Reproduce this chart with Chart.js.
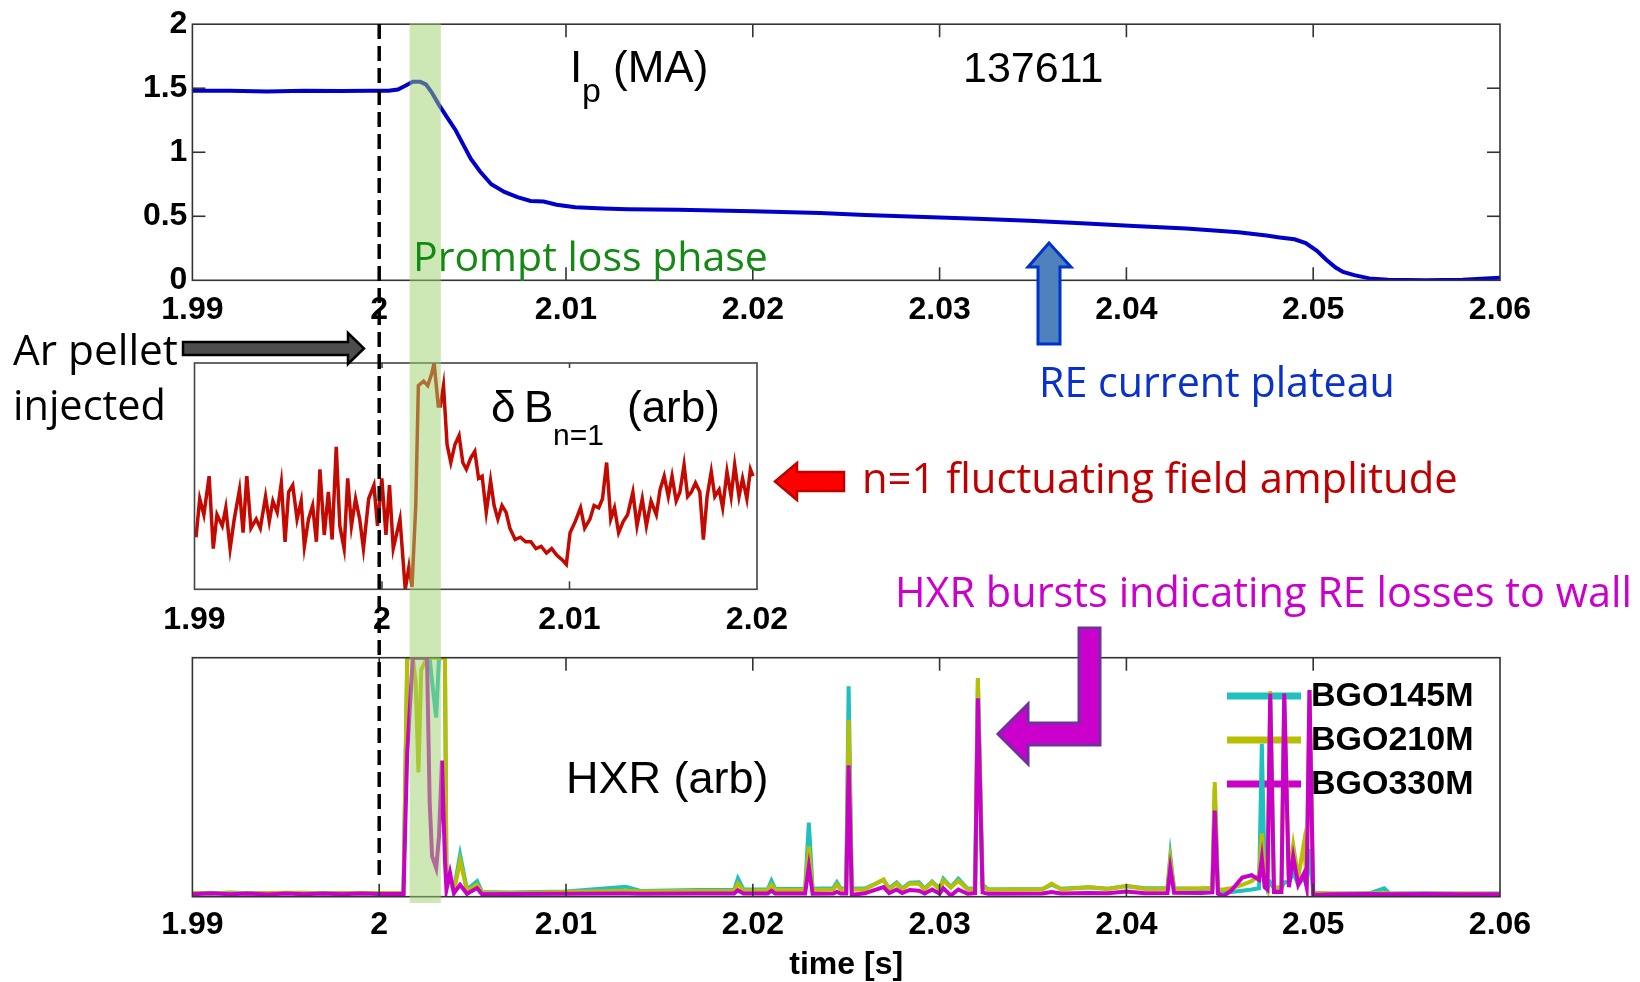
<!DOCTYPE html>
<html><head><meta charset="utf-8">
<script src="https://cdn.jsdelivr.net/npm/chart.js@4"></script>
<style>
html,body{margin:0;padding:0;background:#fff;}
#wrap{position:relative;width:1640px;height:982px;overflow:hidden;background:#fff;}
canvas{position:absolute;left:0;top:0;}
</style></head><body>
<div id="wrap">
<canvas id="cTop" width="1640" height="982"></canvas>
<canvas id="cMid" width="1640" height="982"></canvas>
<canvas id="cBot" width="1640" height="982"></canvas>
<canvas id="cOver" width="1640" height="982"></canvas>
</div>
<script>
// ---------------- DATA ----------------
const timeTicks = [1.99, 2.00, 2.01, 2.02, 2.03, 2.04, 2.05, 2.06];
const timeTickLabels = ['1.99', '2', '2.01', '2.02', '2.03', '2.04', '2.05', '2.06'];
const midTimeTicks = [1.99, 2.00, 2.01, 2.02];
const midTimeTickLabels = ['1.99', '2', '2.01', '2.02'];
const ipTicks = [0, 0.5, 1, 1.5, 2];
const ipTickLabels = ['0', '0.5', '1', '1.5', '2'];

const pelletTime = 2.0;
const promptLossStart = 2.00163;
const promptLossEnd = 2.0033;

// Plasma current Ip (MA), shot 137611
const ipTime = [1.9900,1.9920,1.9940,1.9960,1.9980,1.9995,2.0005,2.0010,2.0014,2.0018,
  2.0022,2.0025,2.0028,2.0032,2.0036,2.0041,2.0045,2.0049,2.0054,2.0060,
  2.0067,2.0074,2.0081,2.0088,2.0095,2.0105,2.0120,2.0133,2.0160,2.0200,
  2.0236,2.0260,2.0292,2.0320,2.0348,2.0376,2.0404,2.0432,2.0460,2.0475,
  2.0482,2.0490,2.0496,2.0502,2.0507,2.0512,2.0516,2.0522,2.0530,2.0540,
  2.0560,2.0580,2.0600];
const ipValue = [1.48,1.48,1.475,1.48,1.478,1.48,1.48,1.49,1.52,1.55,
  1.55,1.53,1.47,1.37,1.28,1.17,1.06,0.95,0.85,0.75,
  0.69,0.65,0.62,0.615,0.59,0.57,0.56,0.555,0.55,0.54,
  0.525,0.51,0.495,0.48,0.465,0.445,0.425,0.405,0.375,0.35,
  0.335,0.32,0.29,0.23,0.16,0.10,0.065,0.04,0.015,0.005,
  0.0,0.005,0.02];

// delta B n=1 (arb)
const dbTime = [1.99008,1.99028,1.99050,1.99078,1.99100,1.99120,1.99148,1.99167,1.99190,1.99212,
  1.99240,1.99259,1.99279,1.99301,1.99329,1.99351,1.99379,1.99399,1.99418,1.99441,
  1.99463,1.99483,1.99502,1.99524,1.99547,1.99569,1.99586,1.99608,1.99630,1.99650,
  1.99669,1.99692,1.99714,1.99734,1.99756,1.99775,1.99798,1.99817,1.99837,1.99859,
  1.99881,1.99901,1.99929,1.99957,1.99976,1.99999,2.00021,2.00040,2.00060,2.00096,
  2.00124,2.00144,2.00160,2.00180,2.00194,2.00222,2.00244,2.00264,2.00278,2.00300,
  2.00311,2.00328,2.00347,2.00367,2.00389,2.00411,2.00431,2.00450,2.00473,2.00495,
  2.00515,2.00534,2.00556,2.00579,2.00598,2.00618,2.00640,2.00662,2.00682,2.00710,
  2.00738,2.00766,2.00794,2.00821,2.00849,2.00877,2.00905,2.00933,2.00961,2.00983,
  2.01003,2.01031,2.01059,2.01081,2.01109,2.01131,2.01156,2.01176,2.01198,2.01220,
  2.01240,2.01262,2.01287,2.01310,2.01338,2.01360,2.01388,2.01410,2.01435,2.01463,
  2.01483,2.01505,2.01527,2.01547,2.01569,2.01589,2.01611,2.01630,2.01650,2.01672,
  2.01695,2.01714,2.01734,2.01756,2.01775,2.01798,2.01817,2.01840,2.01862,2.01881,
  2.01904,2.01923,2.01946,2.01965,2.01979];
const dbValue = [23,40,33,50,18,33,28,36,18,31,
  44,25,50,27,31,27,41,30,39,34,
  47,21,43,46,31,39,19,31,37,21,
  53,24,43,22,63,28,18,49,28,40,
  31,18,40,46,28,49,24,46,18,31,
  0,10,1,37,90,92,90,95,100,81,
  81,90,64,56,64,68,56,53,58,61,
  49,50,34,48,37,31,37,34,27,22,
  23,21,21,18,19,16,18,15,13,11,
  25,30,36,27,31,37,36,40,56,31,
  36,25,30,33,43,28,40,28,39,33,
  44,50,41,50,39,43,55,41,43,47,
  43,22,41,52,41,44,36,52,41,55,
  41,49,40,53,50];

// HXR (arb)
const hxrTime = [1.9900,1.9910,1.9920,1.9930,1.9940,1.9950,1.9960,1.9970,1.9980,1.9990,
  2.0000,2.0013,2.0015,2.0018,2.00195,2.0021,2.00225,2.00256,2.0027,2.00283,
  2.00305,2.0032,2.00336,2.00352,2.0036,2.00379,2.0040,2.00433,2.0047,2.00524,
  2.0055,2.0070,2.0100,2.0132,2.0140,2.0170,2.0190,2.0192,2.0195,2.0208,
  2.0210,2.0212,2.0228,2.0230,2.0232,2.0243,2.0245,2.0247,2.0250,2.02513,
  2.0253,2.0260,2.0270,2.0273,2.0277,2.0280,2.0284,2.0289,2.0292,2.0296,
  2.0300,2.0302,2.0306,2.0310,2.0315,2.0319,2.03205,2.0323,2.0326,2.0355,
  2.0360,2.0365,2.0380,2.0390,2.0400,2.0410,2.0422,2.04235,2.04255,2.0440,
  2.0446,2.04473,2.0449,2.0452,2.0456,2.0462,2.0467,2.0471,2.04725,2.0474,
  2.04755,2.0477,2.0479,2.0483,2.04845,2.0487,2.04893,2.0492,2.0495,2.04965,
  2.0498,2.0500,2.0510,2.0530,2.0538,2.0541,2.0560,2.0580,2.0600];
const hxrBGO145M = [1.5,1.3,1.8,1.4,1.6,1.5,1.7,1.4,1.5,1.6,
  1.6,1.5,100,100,100,100,100,100,100,90,
  75,100,100,100,10,8,3,17.5,3,6.5,
  2,1.8,2.2,4.2,2.4,2.8,2.8,7.6,3,3,
  6.7,3.2,3.2,31,3.3,3.5,6,3.4,3.4,88,
  3.4,3.4,7,3.5,6,3.5,5.8,6,3.3,6.3,
  3.3,7.5,4,7.5,3.3,3.5,91,5,3,3.2,
  5,3.3,4,3.3,4.5,3.5,3.5,17,3.5,3.2,
  3.5,45,2.5,1.5,2.0,2.5,3,3.5,64,10,
  3.5,6,3.5,3.5,6,6,10,5,8,5,
  20,1.5,1.2,1.4,3.5,1.3,1.4,1.2,1.3];
const hxrBGO210M = [1.5,1.4,1.6,1.3,1.5,1.7,1.6,1.4,1.4,1.5,
  1.5,1.5,100,100,90,52,95,100,100,100,
  100,100,100,100,8,7,2,15,2.5,5,
  1.8,1.6,2.0,2.5,2.2,2.4,2.5,5.5,2.6,2.7,
  5,2.8,2.8,21,2.8,3,5,3,3,74,
  3,3,7.2,3,5.5,3,5.5,5.4,3,6,
  3,6.8,3.8,6.7,3,3.2,91.5,4,3,3,
  5.5,3,4,3.2,4.5,3.2,3.3,15.3,3.2,3.5,
  3.6,48,3,3,3.5,5,6.5,9,26.5,8,
  4,86,4,4,84,8,21.6,8,22.3,7,
  86.5,1.5,1.3,1.3,1.5,1.2,1.2,1.3,1.2];
const hxrBGO330M = [1.0,1.4,1.0,1.3,0.9,1.3,1.0,1.3,1.0,1.3,
  1.1,1.1,60,100,100,100,100,100,40,17,
  12,25,57,15,3,10,1.5,5,1.2,3.6,
  1,1.1,1.2,1.3,1.2,1.3,1.3,2.7,1.3,1.3,
  2.5,1.3,1.3,12.5,1.2,1.3,2,1.3,1.3,55,
  0.8,1.4,4,1.5,3,1.5,2.8,2.5,1.3,3,
  1.3,3.5,0.5,3,1.2,1.5,83,1.8,1.2,1.3,
  2,1.3,1.5,1.4,2.2,1.4,1.5,11.8,1.6,1.5,
  1.8,36,1.3,0.3,2.5,8,9,7,16,4,
  3,85,2,2,85,4,16.7,5,9.7,4,
  86.5,0.7,1.0,1.1,1.0,1.0,1.1,1.0,1.0];
const hxrLabels = ['BGO145M', 'BGO210M', 'BGO330M'];

// ---------------- STYLE / LAYOUT ----------------
const TICK_FONT = {family: "'Liberation Sans', Arial, sans-serif", size: 32, weight: 'bold'};
const ARIAL = "'Liberation Sans', Arial, sans-serif";
const CALIBRI = "'Open Sans', sans-serif";
const hxrColors = ['#20c0c0', '#b8be00', '#c800c8'];

const framePlugin = {
  id: 'frame',
  afterDatasetsDraw(chart, args, o) {
    const ctx = chart.ctx, a = chart.chartArea;
    ctx.save();
    ctx.strokeStyle = o.color; ctx.lineWidth = o.width;
    ctx.strokeRect(a.left, a.top, a.right - a.left, a.bottom - a.top);
    const seg = (x1, y1, x2, y2) => { ctx.beginPath(); ctx.moveTo(x1, y1); ctx.lineTo(x2, y2); ctx.stroke(); };
    const xs = chart.scales.x;
    xs.ticks.forEach(t => {
      const p = xs.getPixelForValue(t.value);
      if (p <= a.left + 2 || p >= a.right - 2) return;
      seg(p, a.bottom, p, a.bottom - o.xLen);
      seg(p, a.top, p, a.top + o.xTopLen);
    });
    if (o.yLen) {
      const ys = chart.scales.y;
      ys.ticks.forEach(t => {
        const p = ys.getPixelForValue(t.value);
        if (p <= a.top + 2 || p >= a.bottom - 2) return;
        seg(a.left, p, a.left + o.yLen, p);
        seg(a.right, p, a.right - o.yLen, p);
      });
    }
    ctx.restore();
  }
};

const legendPlugin = {
  id: 'hxrLegend',
  beforeDatasetsDraw(chart) {
    const ctx = chart.ctx;
    ctx.save();
    const rows = [696, 740, 784];
    hxrLabels.forEach((lab, i) => {
      ctx.strokeStyle = hxrColors[i]; ctx.lineWidth = 7;
      ctx.beginPath(); ctx.moveTo(1227, rows[i]); ctx.lineTo(1301, rows[i]); ctx.stroke();
      ctx.fillStyle = '#000'; ctx.font = 'bold 34px ' + ARIAL; ctx.textBaseline = 'middle';
      ctx.fillText(lab, 1311, rows[i] + 1);
    });
    ctx.restore();
  }
};

function xScale(min, max, ticks, labels, pad, h, extra) {
  return Object.assign({
    type: 'linear', min: min, max: max,
    afterBuildTicks: s => { s.ticks = ticks.map(v => ({value: v})); },
    afterFit: s => { s.height = h; },
    ticks: {callback: (v, i) => labels[i], font: TICK_FONT, color: '#000', padding: pad, autoSkip: false, maxRotation: 0},
    grid: {display: false, drawTicks: false},
    border: {display: false}
  }, extra || {});
}

const common = {
  responsive: false, animation: false, events: [],
  elements: {point: {radius: 0}, line: {tension: 0}},
};

const topChart = new Chart(document.getElementById('cTop'), {
  type: 'line',
  data: {datasets: [{data: ipTime.map((t, i) => ({x: t, y: ipValue[i]})), borderColor: '#0000c8', borderWidth: 4}]},
  options: Object.assign({}, common, {
    layout: {padding: {left: 132.4, right: 140, top: 17.8, bottom: 651.7}},
    plugins: {legend: {display: false}, tooltip: {enabled: false}, frame: {color: '#333', width: 1.6, xLen: 13, xTopLen: 13, yLen: 13}},
    scales: {
      x: xScale(1.99, 2.06, timeTicks, timeTickLabels, 11, 50),
      y: {
        min: 0, max: 2,
        afterBuildTicks: s => { s.ticks = ipTicks.map(v => ({value: v})); },
        afterFit: s => { s.width = 60; },
        ticks: {callback: (v, i) => ipTickLabels[i], font: TICK_FONT, color: '#000', padding: 5},
        grid: {display: false, drawTicks: false}, border: {display: false}
      }
    }
  }),
  plugins: [framePlugin]
});

const midChart = new Chart(document.getElementById('cMid'), {
  type: 'line',
  data: {datasets: [{data: dbTime.map((t, i) => ({x: t, y: dbValue[i]})), borderColor: '#c40a00', borderWidth: 3.5}]},
  options: Object.assign({}, common, {
    layout: {padding: {left: 194.5, right: 883, top: 363, bottom: 347.7}},
    plugins: {legend: {display: false}, tooltip: {enabled: false}, frame: {color: '#444', width: 1.6, xLen: 8, xTopLen: 5, yLen: 0}},
    scales: {
      x: xScale(1.99, 2.02, midTimeTicks, midTimeTickLabels, 12, 45),
      y: {display: false, min: 0, max: 100}
    }
  }),
  plugins: [framePlugin]
});

const botChart = new Chart(document.getElementById('cBot'), {
  type: 'line',
  data: {datasets: [
    {label: hxrLabels[0], data: hxrTime.map((t, i) => ({x: t, y: hxrBGO145M[i]})), borderColor: hxrColors[0], borderWidth: 4, order: 2},
    {label: hxrLabels[1], data: hxrTime.map((t, i) => ({x: t, y: hxrBGO210M[i]})), borderColor: hxrColors[1], borderWidth: 4, order: 1},
    {label: hxrLabels[2], data: hxrTime.map((t, i) => ({x: t, y: hxrBGO330M[i]})), borderColor: hxrColors[2], borderWidth: 4, order: 0}
  ]},
  options: Object.assign({}, common, {
    layout: {padding: {left: 192.4, right: 140, top: 657.7, bottom: 1.3}},
    plugins: {legend: {display: false}, tooltip: {enabled: false}, frame: {color: '#333', width: 1.6, xLen: 13, xTopLen: 13, yLen: 0}},
    scales: {
      x: xScale(1.99, 2.06, timeTicks, timeTickLabels, 9, 84, {
        title: {display: true, text: 'time [s]', color: '#000', font: {family: "'Liberation Sans', Arial, sans-serif", size: 32, weight: 'bold', lineHeight: 1}, padding: 0}
      }),
      y: {display: false, min: 0, max: 100}
    }
  }),
  plugins: [framePlugin, legendPlugin]
});

// ---------------- ANNOTATIONS ----------------
function drawOverlay() {
  const ctx = document.getElementById('cOver').getContext('2d');
  const xs = topChart.scales.x;
  // prompt loss band
  const b0 = xs.getPixelForValue(promptLossStart), b1 = xs.getPixelForValue(promptLossEnd);
  ctx.fillStyle = 'rgba(155,209,105,0.5)';
  ctx.fillRect(b0, 23, b1 - b0, 880);
  // pellet injection time
  const px = xs.getPixelForValue(pelletTime);
  ctx.save();
  ctx.setLineDash([15, 7]); ctx.lineWidth = 3.5; ctx.strokeStyle = '#000';
  ctx.beginPath(); ctx.moveTo(px, 24); ctx.lineTo(px, 882); ctx.stroke();
  ctx.restore();

  function fitText(text, family, weight, x, y, w, color) {
    ctx.font = weight + ' 100px ' + family;
    const size = 100 * w / ctx.measureText(text).width;
    ctx.font = weight + ' ' + size.toFixed(2) + 'px ' + family;
    ctx.fillStyle = color; ctx.textBaseline = 'alphabetic';
    ctx.fillText(text, x, y);
  }
  function text(t, family, size, x, y, color, weight) {
    ctx.font = (weight || 'normal') + ' ' + size + 'px ' + family;
    ctx.fillStyle = color || '#000'; ctx.textBaseline = 'alphabetic';
    ctx.fillText(t, x, y);
  }
  function poly(pts, fill, stroke, lw) {
    ctx.beginPath(); ctx.moveTo(pts[0][0], pts[0][1]);
    for (let i = 1; i < pts.length; i++) ctx.lineTo(pts[i][0], pts[i][1]);
    ctx.closePath();
    ctx.fillStyle = fill; ctx.fill();
    ctx.lineJoin = 'miter'; ctx.lineWidth = lw; ctx.strokeStyle = stroke; ctx.stroke();
  }

  // panel labels (Arial-like)
  text('I', ARIAL, 44, 570, 82);
  text('p', ARIAL, 34, 582, 102);
  text('(MA)', ARIAL, 44, 613, 82);
  text('137611', ARIAL, 43, 963, 82);
  text('\u03B4', ARIAL, 44, 491, 422);
  text('B', ARIAL, 44, 524, 422);
  text('n=1', ARIAL, 30, 553, 445);
  text('(arb)', ARIAL, 44, 627, 422);
  text('HXR (arb)', ARIAL, 45, 566, 793);

  // callouts (Calibri-like)
  fitText('Prompt loss phase', CALIBRI, 'normal', 413, 271, 355, '#138a13');
  fitText('Ar pellet', CALIBRI, 'normal', 13, 365, 165, '#000');
  fitText('injected', CALIBRI, 'normal', 13, 420, 153, '#000');
  fitText('RE current plateau', CALIBRI, 'normal', 1039, 397, 356, '#0a32c8');
  fitText('n=1 fluctuating field amplitude', CALIBRI, 'normal', 862, 493, 596, '#c00000');
  fitText('HXR bursts indicating RE losses to wall', CALIBRI, 'normal', 895, 607, 737, '#cc00cc');

  // arrows
  poly([[183,342],[348,342],[348,333],[364,348.5],[348,364],[348,355],[183,355]], '#4d4d4d', '#000', 2.5);
  poly([[775,481.5],[797,463],[797,472],[844,472],[844,491],[797,491],[797,500]], '#ff0000', '#c00000', 2.5);
  poly([[1049,243],[1071,267],[1060,267],[1060,344],[1038,344],[1038,267],[1028,267]], '#4f81bd', '#0033cc', 3);
  poly([[1079,628],[1100,628],[1100,745],[1028,745],[1028,764],[998,734],[1028,704],[1028,723],[1079,723]], '#cc00cc', '#7030a0', 3);
}
drawOverlay();
</script>
</body></html>
